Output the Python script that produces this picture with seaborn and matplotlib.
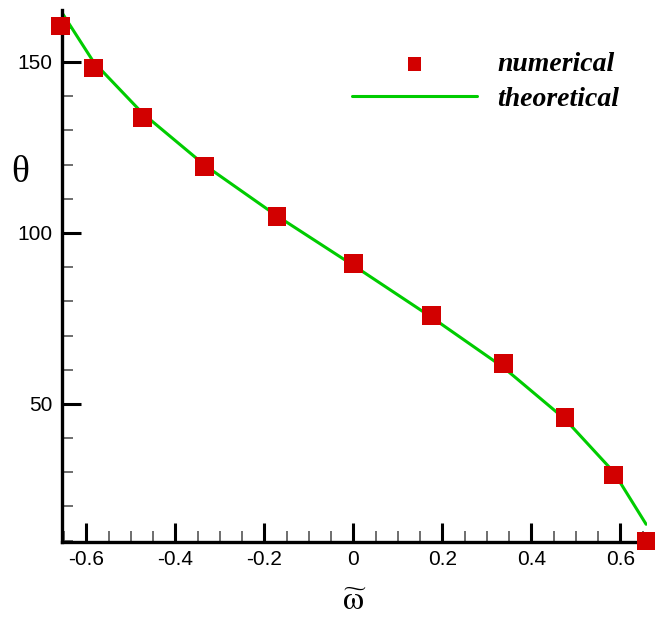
import matplotlib
matplotlib.use("Agg")
import matplotlib.pyplot as plt
import seaborn as sns
import pandas as pd
from matplotlib.ticker import MultipleLocator

omega = [-0.658, -0.584, -0.474, -0.334, -0.172, 0.0, 0.175, 0.337, 0.476, 0.585, 0.658]
theta_numerical = [160.5, 148.2, 133.8, 119.5, 104.9, 91.1, 75.9, 61.9, 46.1, 29.2, 9.9]
theta_theoretical = [165.0, 150.0, 135.0, 119.8, 105.0, 90.5, 75.4, 60.7, 45.5, 30.1, 14.8]
xticks = [-0.6, -0.4, -0.2, 0, 0.2, 0.4, 0.6]
xticklabels = ["-0.6", "-0.4", "-0.2", "0", "0.2", "0.4", "0.6"]
yticks = [50, 100, 150]

df = pd.DataFrame({"omega": omega, "num": theta_numerical, "theo": theta_theoretical})

sns.set_style("white")
plt.rcParams["font.family"] = ["Liberation Sans", "DejaVu Sans"]
plt.rcParams["mathtext.fontset"] = "stix"
plt.rcParams["text.color"] = "black"
plt.rcParams["axes.labelcolor"] = "black"

fig = plt.figure(figsize=(6.55, 6.17), dpi=100)
ax = fig.add_axes([62 / 655, (617 - 541.7) / 617, (647 - 62) / 655, (541.7 - 10) / 617])

red = "#d20000"
green = "#00cc00"

sns.lineplot(data=df, x="omega", y="theo", ax=ax, color=green, linewidth=2.2,
             label="theoretical", legend=False, sort=False, zorder=2)
sns.scatterplot(data=df, x="omega", y="num", ax=ax, color=red, marker="s", s=180,
                edgecolor="none", linewidth=0, label="numerical", legend=False,
                zorder=3, clip_on=False)

ax.set_xlim(-0.655, 0.66)
ax.set_ylim(9.7, 165.2)

for side in ["top", "right"]:
    ax.spines[side].set_visible(False)
for side in ["left", "bottom"]:
    ax.spines[side].set_linewidth(2.4)
    ax.spines[side].set_color("black")
    ax.spines[side].set_zorder(2.5)

ax.set_xticks(xticks)
ax.set_xticklabels(xticklabels)
ax.set_yticks(yticks)
ax.xaxis.set_minor_locator(MultipleLocator(0.05))
ax.yaxis.set_minor_locator(MultipleLocator(10))
ax.tick_params(axis="both", which="both", bottom=True, left=True, top=False, right=False)
ax.tick_params(axis="both", which="major", direction="in", length=14, width=2.2,
               labelsize=15, colors="black")
ax.tick_params(axis="both", which="minor", direction="in", length=8, width=1.2,
               color="#555555")
ax.tick_params(axis="x", which="major", pad=6)
ax.tick_params(axis="y", which="major", pad=7)

ax.set_xlabel(r"$\widetilde{\mathrm{\omega}}$", fontsize=24, labelpad=12, color="black")
ax.set_ylabel("θ", fontsize=27, rotation=0, family="Liberation Serif",
              va="center", ha="center", color="black")
ax.yaxis.set_label_coords(-0.072, 0.693)

handles, labels = ax.get_legend_handles_labels()
order = [labels.index("numerical"), labels.index("theoretical")]
leg = ax.legend([handles[i] for i in order], [labels[i] for i in order],
                loc="upper left", bbox_to_anchor=(0.453, 0.969), frameon=False,
                prop={"family": "Liberation Serif", "style": "italic",
                      "weight": "bold", "size": 20},
                handlelength=4.5, handletextpad=0.72, labelspacing=0.35,
                markerscale=0.75, labelcolor="black")

fig.savefig("out.png", dpi=100, facecolor="white")
